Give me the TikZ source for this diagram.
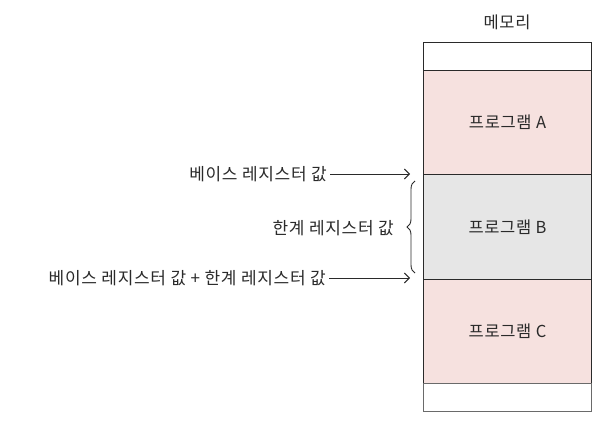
\documentclass[tikz,border=0pt]{standalone}
\usepackage{fontspec}
\setmainfont{Noto Sans CJK KR}[LetterSpace=4]
\usetikzlibrary{decorations.pathreplacing,arrows.meta}
\definecolor{pinkfill}{HTML}{F6E1DF}
\definecolor{grayfill}{HTML}{E6E6E6}
\definecolor{inkc}{HTML}{2A2A2A}
\tikzset{
  cell/.style={draw=inkc, line width=1pt, minimum width=168pt, inner sep=0pt, anchor=north west, font=\fontsize{16.5}{18}\selectfont, text=inkc},
  lbl/.style={inner sep=0pt, anchor=east, font=\fontsize{17}{18}\selectfont, text=inkc},
  arr/.style={draw=inkc, line width=0.9pt, -{Straight Barb[length=5pt,width=10pt]}},
}
\begin{document}
\begin{tikzpicture}[x=1pt,y=-1pt]
\useasboundingbox (0,0) rectangle (610,422);
\node[inner sep=0pt, font=\fontsize{16.5}{18}\selectfont, text=inkc] (title) at (507,22) {메모리};
\node[cell, minimum height=28pt, fill=white] (top) at (423,42) {};
\node[cell, minimum height=104pt, fill=pinkfill] (pa) at (423,70) {프로그램 A};
\node[cell, minimum height=105pt, fill=grayfill] (pb) at (423,174) {프로그램 B};
\node[cell, minimum height=104pt, fill=pinkfill] (pc) at (423,279) {프로그램 C};
\node[cell, minimum height=28pt, fill=white, draw=inkc!70] (bot) at (423,383) {};
\node[lbl] (base) at (327,174) {베이스 레지스터 값};
\node[lbl] (limit) at (394,228) {한계 레지스터 값};
\node[lbl] (sum) at (326,278) {베이스 레지스터 값 + 한계 레지스터 값};
\coordinate (baseend) at (410,174);
\coordinate (sumend) at (410,278);
\draw[arr] (base.east) ++(3,0) coordinate (b0) (b0) -- (baseend);
\draw[arr] (sum.east) ++(3,0) coordinate (s0) (s0) -- (sumend);
\coordinate (brt) at (415,181);
\coordinate (brb) at (415,273);
\draw[draw=inkc, line width=0.9pt, decorate, decoration={brace, amplitude=8pt, mirror}] (brt) -- (brb);
\end{tikzpicture}
\end{document}
